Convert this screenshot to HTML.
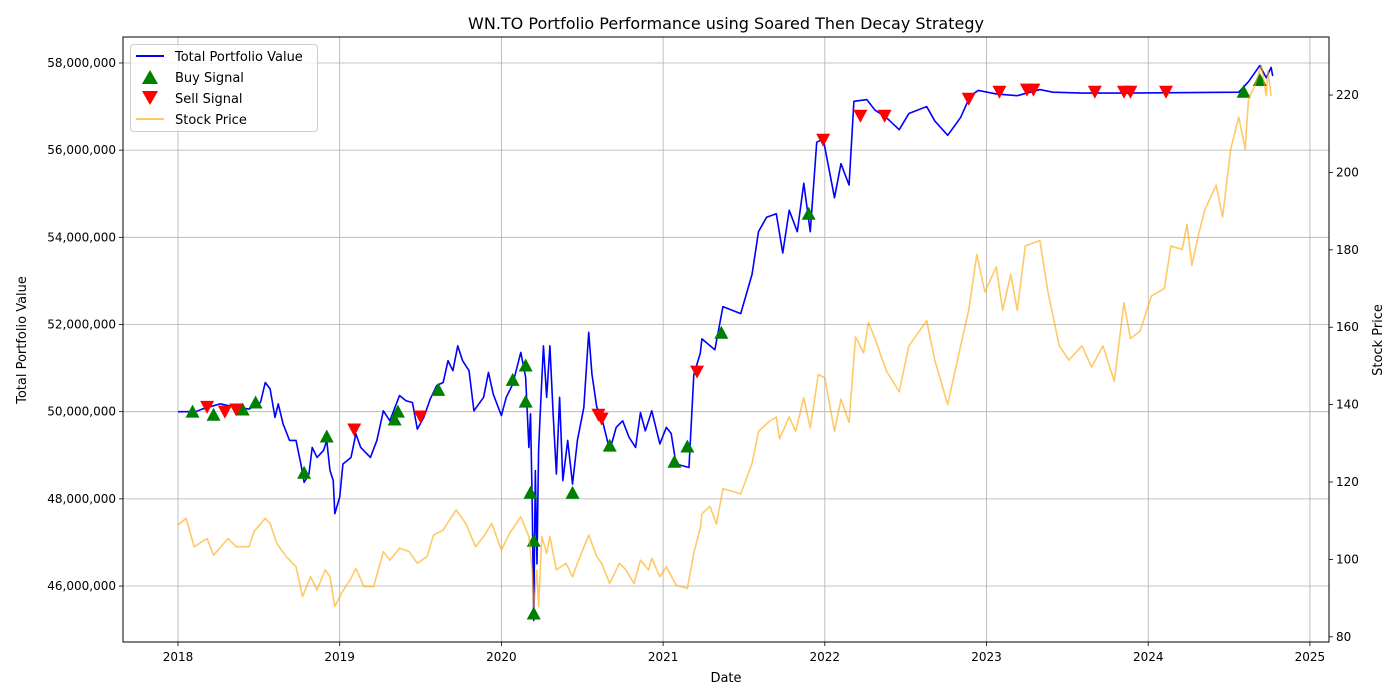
<!DOCTYPE html>
<html><head><meta charset="utf-8"><style>
html,body{margin:0;padding:0;background:#fff;}
svg{display:block;font-family:"DejaVu Sans","Liberation Sans",sans-serif;}
</style></head><body>
<svg id="chart" width="1400" height="700" viewBox="0 0 1400 700" xmlns="http://www.w3.org/2000/svg">
<rect width="1400" height="700" fill="#fff"/>
<text x="726" y="29" font-size="16" text-anchor="middle">WN.TO Portfolio Performance using Soared Then Decay Strategy</text>
<g id="grid"></g>
<g id="series"></g>
<g id="axes"></g>
<text x="726" y="682" font-size="13" text-anchor="middle">Date</text>
<text transform="translate(26,340) rotate(-90)" font-size="13" text-anchor="middle">Total Portfolio Value</text>
<text transform="translate(1382,340) rotate(-90)" font-size="13" text-anchor="middle">Stock Price</text>
<g>
<rect x="130.5" y="44.5" width="187" height="87" rx="3" fill="#fff" fill-opacity="0.8" stroke="#ccc"/>
<g><line x1="136" y1="56" x2="164" y2="56" stroke="#0000ff" stroke-width="2"/><text x="175" y="61" font-size="13">Total Portfolio Value</text></g>
<g><polygon points="150,70 158,84 142,84" fill="#008000"/><text x="175" y="82" font-size="13">Buy Signal</text></g>
<g><polygon points="142,91 158,91 150,105" fill="#ff0000"/><text x="175" y="103" font-size="13">Sell Signal</text></g>
<g><line x1="136" y1="119" x2="164" y2="119" stroke="#ffa500" stroke-opacity="0.6" stroke-width="2"/><text x="175" y="124" font-size="13">Stock Price</text></g>
</g>
</svg>
<script>
const portDates=[2018.0,2018.11,2018.15,2018.26,2018.36,2018.44,2018.51,2018.54,2018.57,2018.60,2018.62,2018.65,2018.69,2018.73,2018.76,2018.78,2018.81,2018.83,2018.86,2018.90,2018.92,2018.94,2018.96,2018.97,2019.00,2019.02,2019.07,2019.10,2019.13,2019.19,2019.23,2019.27,2019.31,2019.37,2019.41,2019.45,2019.48,2019.52,2019.56,2019.60,2019.64,2019.67,2019.70,2019.73,2019.76,2019.80,2019.83,2019.89,2019.92,2019.95,2020.0,2020.03,2020.07,2020.12,2020.15,2020.17,2020.18,2020.19,2020.20,2020.21,2020.22,2020.23,2020.24,2020.26,2020.28,2020.30,2020.32,2020.34,2020.36,2020.38,2020.41,2020.44,2020.47,2020.51,2020.54,2020.56,2020.59,2020.62,2020.67,2020.71,2020.75,2020.79,2020.83,2020.86,2020.89,2020.93,2020.98,2021.02,2021.05,2021.08,2021.16,2021.19,2021.23,2021.24,2021.32,2021.37,2021.48,2021.55,2021.59,2021.64,2021.70,2021.74,2021.78,2021.83,2021.87,2021.91,2021.95,2021.99,2022.06,2022.10,2022.15,2022.18,2022.26,2022.31,2022.38,2022.46,2022.52,2022.63,2022.68,2022.76,2022.84,2022.90,2022.95,2023.06,2023.19,2023.33,2023.41,2023.59,2023.86,2024.56,2024.62,2024.69,2024.73,2024.76,2024.77];
const portValues=[50,50,50.06,50.18,50.1,50.06,50.21,50.67,50.52,49.87,50.18,49.72,49.34,49.34,48.8,48.38,48.57,49.18,48.95,49.11,49.34,48.65,48.42,47.66,48.04,48.8,48.95,49.49,49.18,48.95,49.34,50.02,49.79,50.37,50.25,50.21,49.6,49.87,50.29,50.6,50.67,51.17,50.94,51.51,51.17,50.94,50.02,50.33,50.9,50.4,49.91,50.33,50.63,51.36,50.79,49.18,49.95,48.04,45.21,48.65,46.51,49.11,49.95,51.51,50.33,51.51,49.95,48.57,50.33,48.42,49.34,48.34,49.34,50.1,51.82,50.86,50.1,49.87,49.11,49.64,49.79,49.41,49.18,49.98,49.56,50.02,49.26,49.64,49.5,48.8,48.72,50.85,51.34,51.67,51.42,52.41,52.25,53.15,54.13,54.46,54.54,53.64,54.62,54.13,55.24,54.13,56.18,56.26,54.91,55.69,55.2,57.12,57.16,56.92,56.75,56.47,56.84,57.0,56.67,56.34,56.75,57.25,57.37,57.29,57.25,57.39,57.33,57.31,57.31,57.33,57.57,57.94,57.66,57.9,57.7];
const stockDates=[2018.0,2018.05,2018.10,2018.18,2018.22,2018.31,2018.36,2018.44,2018.47,2018.54,2018.57,2018.61,2018.67,2018.73,2018.77,2018.82,2018.86,2018.91,2018.94,2018.97,2019.01,2019.07,2019.10,2019.15,2019.21,2019.27,2019.31,2019.37,2019.43,2019.48,2019.54,2019.58,2019.64,2019.72,2019.78,2019.84,2019.89,2019.94,2020.0,2020.05,2020.12,2020.17,2020.19,2020.20,2020.22,2020.23,2020.25,2020.28,2020.30,2020.34,2020.40,2020.44,2020.47,2020.54,2020.59,2020.62,2020.67,2020.73,2020.77,2020.82,2020.86,2020.91,2020.93,2020.98,2021.02,2021.08,2021.15,2021.19,2021.23,2021.24,2021.29,2021.33,2021.37,2021.48,2021.55,2021.59,2021.66,2021.70,2021.72,2021.78,2021.82,2021.87,2021.91,2021.96,2022.0,2022.06,2022.10,2022.15,2022.19,2022.24,2022.27,2022.31,2022.38,2022.46,2022.52,2022.63,2022.68,2022.76,2022.84,2022.89,2022.94,2022.99,2023.06,2023.10,2023.15,2023.19,2023.24,2023.33,2023.38,2023.45,2023.51,2023.59,2023.65,2023.72,2023.79,2023.85,2023.89,2023.95,2024.02,2024.10,2024.14,2024.21,2024.24,2024.27,2024.31,2024.35,2024.42,2024.46,2024.51,2024.56,2024.60,2024.62,2024.66,2024.70,2024.73,2024.74,2024.76];
const stockPrices=[108.9,110.6,103.3,105.4,101.1,105.4,103.3,103.3,107.2,110.6,109.3,104.2,100.7,98.1,90.4,95.5,92.1,97.3,95.5,87.8,91.2,95.1,97.7,93.0,93.0,102,99.8,102.9,102,99.0,100.7,106.3,107.6,112.8,109.3,103.3,105.9,109.3,102.4,106.7,111,105.9,97.3,87.8,97.3,87.8,105.9,101.6,105.9,97.3,99.0,95.5,99.0,106.3,100.7,99.0,93.8,99.0,97.3,93.8,99.8,97.3,100.3,95.5,98.1,93.4,92.5,101.7,108.1,111.8,113.7,109.1,118.3,116.9,124.8,133.1,135.8,136.8,131.2,136.8,133.1,141.8,134,147.8,146.9,133.1,141.4,135.4,157.5,153.4,161.2,157.1,148.8,143.3,155.2,161.7,151.5,140,155.2,164.4,178.8,169.1,175.6,164.4,173.7,164.4,181,182.4,169.1,155.2,151.5,155.2,149.7,155.2,146,166.3,157.1,159,168.1,170,181,180.1,186.6,176,183.8,190.3,196.7,188.5,206,214.3,206,218.9,222.6,227.6,219.8,226.3,219.8];
const buyDates=[2018.09,2018.22,2018.40,2018.48,2018.78,2018.92,2019.34,2019.36,2019.61,2020.07,2020.15,2020.15,2020.18,2020.20,2020.20,2020.44,2020.67,2021.07,2021.15,2021.36,2021.90,2024.59,2024.69];
const buyValues=[50.0,49.93,50.05,50.21,48.6,49.43,49.82,50.0,50.5,50.73,51.06,50.23,48.14,47.04,45.37,48.14,49.22,48.85,49.2,51.81,54.54,57.34,57.61];
const sellDates=[2018.18,2018.29,2018.36,2019.09,2019.50,2020.60,2020.62,2021.21,2021.99,2022.22,2022.37,2022.89,2023.08,2023.25,2023.29,2023.67,2023.85,2023.89,2024.11];
const sellValues=[50.11,50.0,50.05,49.59,49.89,49.93,49.84,50.92,56.24,56.79,56.79,57.18,57.34,57.39,57.39,57.34,57.34,57.34,57.34];
const xTicks=[2018,2019,2020,2021,2022,2023,2024,2025];
const yTicks=[46,48,50,52,54,56,58];
const y2Ticks=[80,100,120,140,160,180,200,220];

const L=123,R=1329,T=37,B=642;
const xMin=2017.66,xMax=2025.118,yMin=44.716,yMax=58.596,y2Min=78.66,y2Max=235.0;
const xs=d=>L+(d-xMin)/(xMax-xMin)*(R-L);
const ys=v=>B-(v-yMin)/(yMax-yMin)*(B-T);
const y2s=v=>B-(v-y2Min)/(y2Max-y2Min)*(B-T);
const NS='http://www.w3.org/2000/svg';
function mk(tag,attrs,parent){const e=document.createElementNS(NS,tag);for(const k in attrs)e.setAttribute(k,attrs[k]);parent.appendChild(e);return e;}
const grid=document.getElementById('grid'),ser=document.getElementById('series'),ax=document.getElementById('axes');
const fmt=v=>(v*1000000).toLocaleString('en-US');

xTicks.forEach(t=>{const x=xs(t);
 const g=mk('line',{x1:x,x2:x,y1:T,y2:B,stroke:'#b0b0b0','stroke-width':0.8},grid);
 
 
 const tk=mk('line',{x1:x,x2:x,y1:B,y2:B+4,stroke:'#000','stroke-width':0.8},ax);
 
 
 const tx=mk('text',{x:x,y:B+19,'font-size':12,'text-anchor':'middle'},ax);tx.textContent=t;
 
 
});
yTicks.forEach(t=>{const y=ys(t);
 const g=mk('line',{x1:L,x2:R,y1:y,y2:y,stroke:'#b0b0b0','stroke-width':0.8},grid);
 
 
 const tk=mk('line',{x1:L-4,x2:L,y1:y,y2:y,stroke:'#000','stroke-width':0.8},ax);
 
 
 const tx=mk('text',{x:L-7,y:y+4,'font-size':12,'text-anchor':'end'},ax);tx.textContent=fmt(t);
 
 
});
y2Ticks.forEach(t=>{const y=y2s(t);
 const tk=mk('line',{x1:R,x2:R+4,y1:y,y2:y,stroke:'#000','stroke-width':0.8},ax);
 
 
 const tx=mk('text',{x:R+7,y:y+4,'font-size':12,'text-anchor':'start'},ax);tx.textContent=t;
 
 
});
const frame=mk('rect',{x:L,y:T,width:R-L,height:B-T,fill:'none',stroke:'#000','stroke-width':1},ax);



const pl=mk('polyline',{points:portDates.map((d,i)=>xs(d)+','+ys(portValues[i])).join(' '),fill:'none',stroke:'#0000ff','stroke-width':1.6,'stroke-linejoin':'round'},ser);


buyDates.forEach((d,i)=>{const x=xs(d),y=ys(buyValues[i]);
 const p=mk('polygon',{points:`${x},${y-7} ${x+7},${y+6} ${x-7},${y+6}`,fill:'#008000'},ser);
 
 
});
sellDates.forEach((d,i)=>{const x=xs(d),y=ys(sellValues[i]);
 const p=mk('polygon',{points:`${x-7},${y-6} ${x+7},${y-6} ${x},${y+7}`,fill:'#ff0000'},ser);
 
 
});
const sl=mk('polyline',{points:stockDates.map((d,i)=>xs(d)+','+y2s(stockPrices[i])).join(' '),fill:'none',stroke:'#ffa500','stroke-opacity':0.6,'stroke-width':1.6,'stroke-linejoin':'round'},ser);


</script>
</body></html>
